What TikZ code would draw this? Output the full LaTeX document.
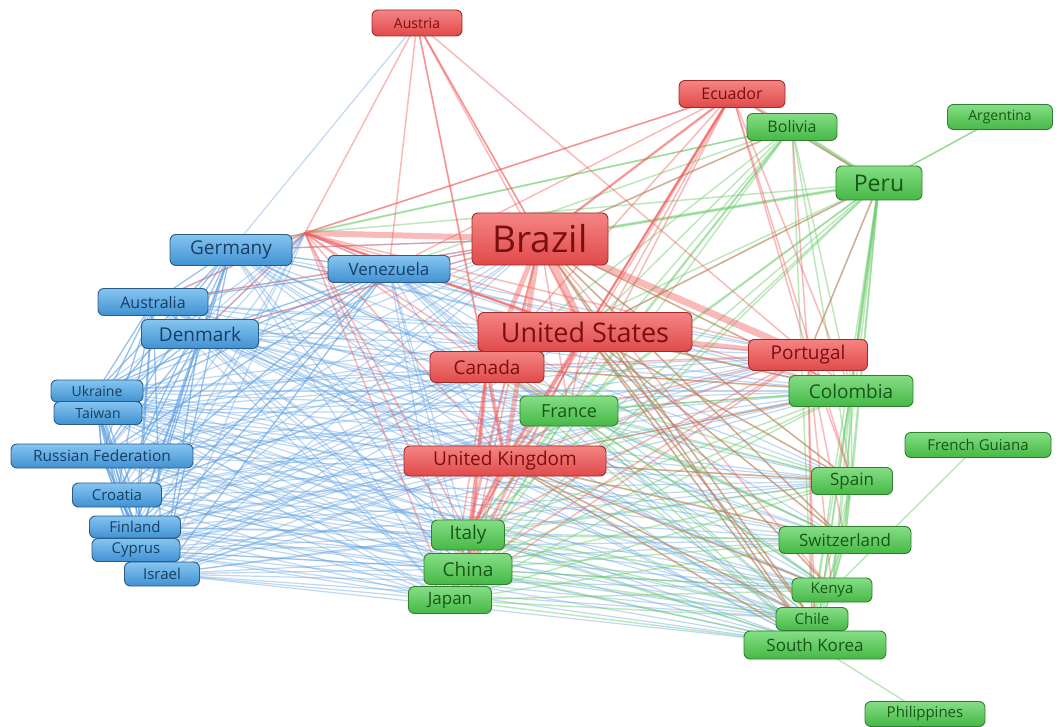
\documentclass[tikz,border=0pt]{standalone}
\usepackage{fontspec}
\setmainfont{Open Sans}
\usetikzlibrary{backgrounds}
\newcommand\fsz[1]{\fontsize{#1}{#1}\selectfont}
\definecolor{bTop}{HTML}{86C5F0}\definecolor{bBot}{HTML}{4091D2}\definecolor{bLine}{HTML}{2A5C86}\definecolor{bText}{HTML}{173F66}
\definecolor{rTop}{HTML}{F58484}\definecolor{rBot}{HTML}{E04A4A}\definecolor{rLine}{HTML}{9E2A2A}\definecolor{rText}{HTML}{7A0F0F}
\definecolor{gTop}{HTML}{85DE85}\definecolor{gBot}{HTML}{46B846}\definecolor{gLine}{HTML}{2F7F2F}\definecolor{gText}{HTML}{175717}
\definecolor{bE}{HTML}{5C9EE0}\definecolor{rE}{HTML}{F05A5A}\definecolor{gE}{HTML}{6CCB6C}
\tikzset{
  nd/.style={rounded corners=6pt, inner sep=0pt, line width=0.9pt},
  bn/.style={nd, draw=bLine, top color=bTop, bottom color=bBot, text=bText},
  rn/.style={nd, draw=rLine, top color=rTop, bottom color=rBot, text=rText},
  gn/.style={nd, draw=gLine, top color=gTop, bottom color=gBot, text=gText},
  be/.style={draw=bE, draw opacity=0.4, line width=1.2pt},
  re/.style={draw=rE, draw opacity=0.42, line width=1.5pt},
  ge/.style={draw=gE, draw opacity=0.45, line width=1.5pt},
}
\begin{document}
\begin{tikzpicture}[x=1pt,y=-1pt]
\useasboundingbox (0,0) rectangle (1062,727);
% red nodes
\node[rn, minimum width=90, minimum height=26, font=\fsz{14}] (aut) at (417,23) {Austria};
\node[rn, minimum width=106, minimum height=27, font=\fsz{16}] (ecu) at (732,94) {Ecuador};
\node[rn, minimum width=136, minimum height=52, font=\fsz{37}] (bra) at (540,239) {Brazil};
\node[rn, minimum width=214, minimum height=39, font=\fsz{27}] (usa) at (585,332) {United States};
\node[rn, minimum width=114, minimum height=31, font=\fsz{19}] (can) at (487,367) {Canada};
\node[rn, minimum width=119, minimum height=31, font=\fsz{19}] (por) at (808,355) {Portugal};
\node[rn, minimum width=202, minimum height=30, font=\fsz{19}] (uk) at (505,461) {United Kingdom};
\coordinate (h) at (305,233);
% blue nodes
\node[bn, minimum width=122, minimum height=31, font=\fsz{19}] (ger) at (231,250) {Germany};
\node[bn, minimum width=122, minimum height=27, font=\fsz{17}] (ven) at (389,269) {Venezuela};
\node[bn, minimum width=110, minimum height=27, font=\fsz{16}] (aus) at (153,302) {Australia};
\node[bn, minimum width=117, minimum height=29, font=\fsz{19}] (den) at (200,334) {Denmark};
\node[bn, minimum width=92, minimum height=22, font=\fsz{14}] (ukr) at (97,391) {Ukraine};
\node[bn, minimum width=88, minimum height=23, font=\fsz{14}] (tai) at (98,413) {Taiwan};
\node[bn, minimum width=182, minimum height=24, font=\fsz{15.5}] (rus) at (102,456) {Russian Federation};
\node[bn, minimum width=89, minimum height=24, font=\fsz{15}] (cro) at (117,495) {Croatia};
\node[bn, minimum width=91, minimum height=22, font=\fsz{15}] (fin) at (135,527) {Finland};
\node[bn, minimum width=88, minimum height=23, font=\fsz{15}] (cyp) at (136,550) {Cyprus};
\node[bn, minimum width=75, minimum height=24, font=\fsz{15}] (isr) at (162,574) {Israel};
% green nodes
\node[gn, minimum width=90, minimum height=27, font=\fsz{16}] (bol) at (792,127) {Bolivia};
\node[gn, minimum width=105, minimum height=25, font=\fsz{14}] (arg) at (1000,117) {Argentina};
\node[gn, minimum width=86, minimum height=34, font=\fsz{23}] (peru) at (879,183) {Peru};
\node[gn, minimum width=124, minimum height=31, font=\fsz{19}] (col) at (851,391) {Colombia};
\node[gn, minimum width=98, minimum height=30, font=\fsz{18}] (fra) at (569,411) {France};
\node[gn, minimum width=146, minimum height=25, font=\fsz{15}] (fg) at (978,445) {French Guiana};
\node[gn, minimum width=81, minimum height=27, font=\fsz{17}] (spa) at (852,481) {Spain};
\node[gn, minimum width=132, minimum height=27, font=\fsz{17}] (swi) at (845,540) {Switzerland};
\node[gn, minimum width=73, minimum height=30, font=\fsz{19}] (ita) at (468,535) {Italy};
\node[gn, minimum width=88, minimum height=31, font=\fsz{19}] (chn) at (468,569) {China};
\node[gn, minimum width=83, minimum height=27, font=\fsz{17}] (jpn) at (450,600) {Japan};
\node[gn, minimum width=80, minimum height=24, font=\fsz{15}] (ken) at (832,590) {Kenya};
\node[gn, minimum width=72, minimum height=23, font=\fsz{15}] (chi) at (812,619) {Chile};
\node[gn, minimum width=142, minimum height=28, font=\fsz{17}] (sko) at (815,645) {South Korea};
\node[gn, minimum width=120, minimum height=25, font=\fsz{15}] (phi) at (925,714) {Philippines};
\begin{pgfonlayer}{background}
% blue edges
\foreach \s in {ger,ven,aus,den,ukr,tai,rus,cro,fin,cyp,isr}{
  \foreach \t in {ger,ven,aus,den,ukr,tai,rus,cro,fin,cyp,isr,h,bra,usa,can,uk,fra,ita,chn,jpn,por,col,spa,swi,ken,chi,sko}{
    \draw[be] (\s.center) -- (\t.center);
  }
}
\draw[be] (aut.center) -- (ger.center);
% green edges
\foreach \s/\ts in {
  peru/{bol,arg,col,spa,swi,chi,sko,ken,fra,ita,chn,jpn,bra,usa,can,uk,ecu,h,por},
  bol/{col,fra,ita,chn,usa,can,uk,spa,h,ven,ger,chi,bra},
  col/{spa,swi,ken,chi,sko,fra,ita,chn,jpn,usa,can,uk,bra},
  fra/{ita,chn,jpn,spa,swi,ken,chi,sko,col},
  ita/{chn,jpn,spa,swi,ken,chi,sko},
  chn/{jpn,spa,swi,ken,chi,sko},
  jpn/{spa,swi,ken,chi,sko},
  spa/{swi,ken,chi,sko,usa,bra,can,uk},
  swi/{ken,chi,sko,usa,bra,can,uk},
  ken/{chi,sko,usa,uk,fra},
  chi/{usa,uk,bra},
  sko/{usa,uk,bra,can},
  fg/{ken},
  phi/{sko},
  arg/{peru}}{
  \foreach \t in \ts { \draw[ge] (\s.center) -- (\t.center); }
}
\draw[ge, line width=3.5pt] (peru.center) -- (bol.center);
\draw[ge, line width=3pt] (peru.center) -- (col.center);
\draw[ge, line width=3pt] (peru.center) -- (bra.center);
% red edges
\foreach \s/\ts in {
  h/{ger,ven,aus,den,usa,can,uk,fra,ita,chn,jpn,por,col,ecu,aut},
  bra/{ecu,aut,bol,col,fra,ita,chn,jpn,spa,swi,ken,chi,sko,ven,ger,den,aus},
  usa/{fra,ita,chn,jpn,col,spa,swi,ken,chi,sko,peru,ecu,h},
  can/{ita,chn,jpn,fra,por,col},
  uk/{ita,chn,jpn,fra,por,col,spa,swi,chi,sko,ken},
  por/{col,spa,swi,ken,chi,sko,fra,ita,chn,jpn,peru,bol,ecu},
  ecu/{peru,bol,col,can,uk,fra,ven,h,spa,ita,chn},
  aut/{bra,usa,can,ven,por,uk}}{
  \foreach \t in \ts { \draw[re] (\s.center) -- (\t.center); }
}
\draw[re, line width=8pt] (bra.center) -- (usa.center);
\draw[re, line width=6pt] (bra.center) -- (h);
\draw[re, line width=7pt] (bra.center) -- (por.center);
\draw[re, line width=5pt] (bra.center) -- (can.center);
\draw[re, line width=5pt] (bra.center) -- (uk.center);
\draw[re, line width=4pt] (usa.center) -- (uk.center);
\draw[re, line width=5pt] (usa.center) -- (por.center);
\draw[re, line width=4pt] (usa.center) -- (can.center);
\draw[re, line width=4pt] (can.center) -- (uk.center);
\draw[re, line width=4pt] (can.center) -- (chn.center);
\draw[re, line width=3pt] (uk.center) -- (ita.center);
\draw[re, line width=3pt] (h) -- (usa.center);
\draw[re, line width=2.5pt] (ecu.center) -- (usa.center);
\draw[re, line width=2.5pt] (ecu.center) -- (bra.center);
\end{pgfonlayer}
\end{tikzpicture}
\end{document}
